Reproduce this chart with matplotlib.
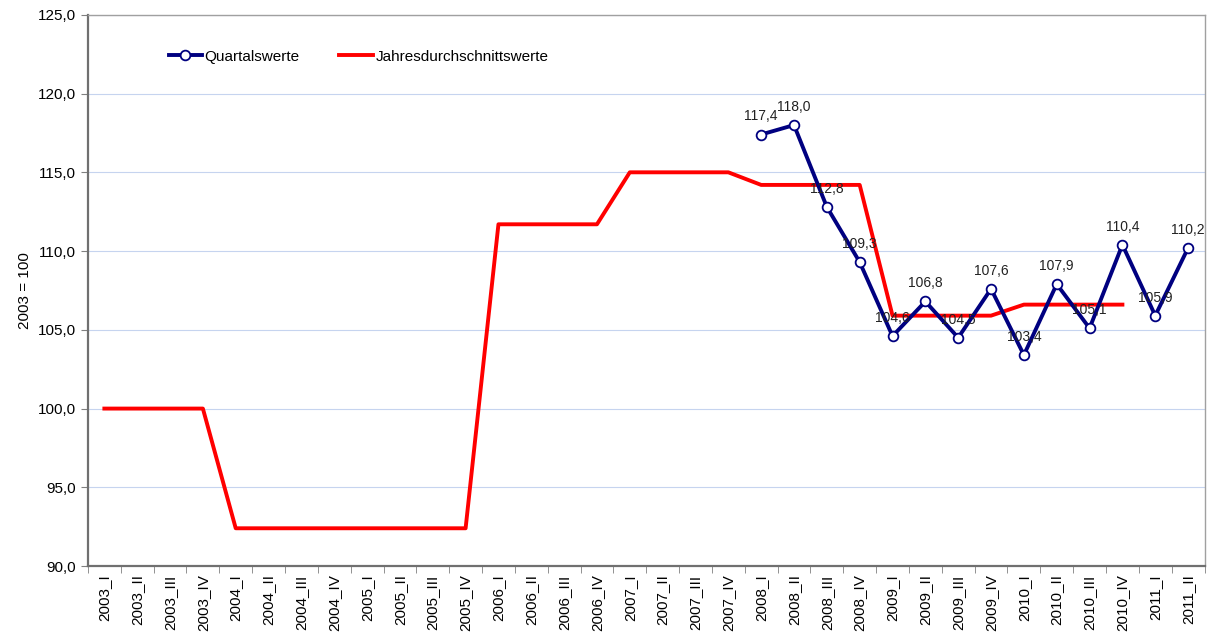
import matplotlib
matplotlib.use("Agg")
import matplotlib.pyplot as plt
import numpy as np

plt.rcParams['font.family'] = ['Liberation Sans', 'DejaVu Sans']

# categories 2003_I .. 2011_II
years = [2003, 2004, 2005, 2006, 2007, 2008, 2009, 2010, 2011]
quarters = ["I", "II", "III", "IV"]
categories = [f"{y}_{q}" for y in years for q in quarters][:34]

# yearly averages (repeated for each quarter of the year, up to 2010_IV)
annual_years = [2003, 2004, 2005, 2006, 2007, 2008, 2009, 2010]
annual_values = [100.0, 92.4, 92.4, 111.7, 115.0, 114.2, 105.9, 106.6]

# quarterly values from 2008_I
quarter_start = "2008_I"
quarter_values = [117.4, 118.0, 112.8, 109.3, 104.6, 106.8, 104.5, 107.6,
                  103.4, 107.9, 105.1, 110.4, 105.9, 110.2]

annual_series = [v for v in annual_values for _ in range(4)]
x_annual = np.arange(len(annual_series))
i0 = categories.index(quarter_start)
x_quarter = np.arange(i0, i0 + len(quarter_values))

fig = plt.figure(figsize=(12.13, 6.44), dpi=100)
ax = fig.add_axes([0.0725, 0.121, 0.9205, 0.856])

ax.plot(x_annual, annual_series, color="#ff0000", lw=2.8,
        label="Jahresdurchschnittswerte", zorder=3)
ax.plot(x_quarter, quarter_values, color="#000080", lw=2.8, marker="o",
        markersize=7, markerfacecolor="white", markeredgecolor="#000080",
        markeredgewidth=1.3, label="Quartalswerte", zorder=4)

for x, v in zip(x_quarter, quarter_values):
    ax.annotate(f"{v:.1f}".replace(".", ","), (x, v), xytext=(0, 8),
                textcoords="offset points", ha="center", va="bottom",
                fontsize=10, color="#222222", zorder=5)

ax.set_xlim(-0.5, len(categories) - 0.5)
ax.set_ylim(90, 125)
ax.set_yticks(np.arange(90, 126, 5))
ax.set_yticklabels([f"{t:.1f}".replace(".", ",") for t in np.arange(90, 126, 5)],
                   fontsize=11)
ax.set_xticks(np.arange(len(categories)))
ax.set_xticklabels(categories, rotation=90, fontsize=11)
ax.tick_params(axis="x", length=0, pad=6)
ax.set_xticks(np.arange(-0.5, len(categories)), minor=True)
ax.tick_params(axis="x", which="minor", length=5, color="#808080")
ax.tick_params(axis="y", length=5, color="#808080")
ax.set_ylabel("2003 = 100", fontsize=11)

ax.grid(axis="y", color="#c6d4ef", lw=0.8)
ax.set_axisbelow(True)
for side in ["left", "bottom"]:
    ax.spines[side].set_color("#707070")
    ax.spines[side].set_linewidth(1.6)
for side in ["top", "right"]:
    ax.spines[side].set_color("#a0a0a0")
    ax.spines[side].set_linewidth(1.0)

handles, labels = ax.get_legend_handles_labels()
ax.legend(handles[::-1], labels[::-1], ncol=2, loc="upper left",
          bbox_to_anchor=(0.06, 0.962), frameon=False, fontsize=11,
          handlelength=2.2, handletextpad=0.15, columnspacing=2.6)

fig.savefig("out.png", dpi=100)
